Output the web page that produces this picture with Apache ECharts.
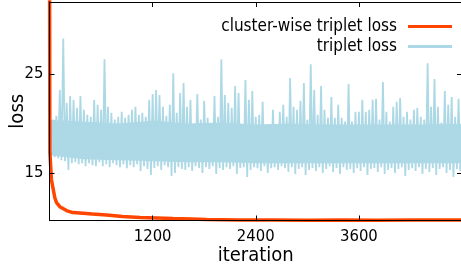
<!DOCTYPE html>
<html>
<head>
<meta charset="utf-8">
<script src="https://cdn.jsdelivr.net/npm/echarts@6/dist/echarts.min.js"></script>
<style>
    html, body { margin: 0; padding: 0; background: #fff; }
    #chart { width: 461px; height: 270px; }
</style>
</head>
<body>
<div id="chart"></div>
<script>
var fontName = "'DejaVu Sans Condensed', 'DejaVu Sans', sans-serif";

// triplet loss: sampled every 40 iterations, peak and trough of the noise band
var tripletStep = 40;
var tripletHigh = [
    21.7, 20.4, 20.8, 23.4, 28.6, 22.1, 22.8, 22.4, 21.6, 22.8,
    21.4, 20.9, 20.7, 22.4, 21.9, 21.4, 26.5, 21.7, 21.1, 20.4,
    20.7, 21.2, 20.6, 20.9, 21.4, 21.7, 20.9, 21.1, 20.7, 22.4,
    23.0, 23.4, 22.9, 21.7, 20.8, 21.9, 25.1, 21.1, 23.1, 24.1,
    21.7, 22.4, 19.7, 23.0, 20.4, 22.3, 20.6, 19.2, 22.8, 20.7,
    26.5, 22.9, 22.1, 21.6, 23.8, 23.1, 19.9, 24.4, 22.4, 23.3,
    20.7, 20.9, 22.2, 19.4, 19.7, 21.4, 19.9, 21.2, 21.9, 20.7,
    24.6, 21.7, 21.4, 22.3, 24.1, 20.4, 26.0, 23.4, 20.9, 23.8,
    21.4, 20.6, 22.7, 20.6, 21.9, 20.6, 20.2, 24.0, 20.2, 21.2,
    21.2, 22.4, 21.2, 21.4, 22.4, 22.5, 20.4, 24.2, 21.2, 20.2,
    21.7, 22.2, 22.6, 20.7, 21.2, 20.4, 21.4, 21.6, 20.7, 20.4,
    26.1, 21.7, 24.5, 21.7, 20.1, 23.3, 21.9, 22.7, 20.7, 22.5
];
var tripletLow = [
    16.7, 16.6, 16.5, 16.3, 16.2, 15.3, 16.0, 16.1, 15.9, 16.0,
    15.7, 16.0, 15.8, 15.7, 16.1, 15.7, 15.9, 15.6, 16.0, 15.8,
    15.6, 15.9, 15.5, 15.8, 15.6, 15.9, 15.2, 15.7, 15.4, 14.8,
    15.5, 15.7, 15.3, 15.8, 15.6, 14.7, 15.0, 15.6, 15.4, 15.3,
    15.6, 15.2, 15.7, 15.5, 15.0, 15.6, 15.4, 15.7, 14.9, 15.5,
    15.3, 15.6, 15.4, 15.7, 14.9, 15.5, 15.6, 14.6, 15.3, 15.6,
    15.5, 15.2, 15.7, 15.0, 15.5, 15.6, 15.3, 15.7, 15.5, 15.1,
    15.6, 14.9, 15.4, 15.6, 14.8, 15.3, 15.5, 15.2, 15.6, 15.0,
    15.4, 15.7, 15.1, 15.5, 14.9, 15.6, 15.3, 15.4, 15.0, 15.5,
    15.2, 15.6, 14.8, 15.4, 15.5, 15.1, 15.6, 14.9, 15.3, 15.5,
    15.0, 15.4, 15.6, 14.7, 15.3, 15.5, 15.2, 15.6, 14.9, 15.4,
    15.1, 15.5, 14.8, 15.4, 15.6, 15.0, 15.3, 14.6, 15.4, 15.2
];

// dense core of the triplet band, read every 400 iterations
var coreIter = [0, 400, 800, 1200, 1600, 2000, 2400, 2800, 3200, 3600, 4000, 4400, 4800];
var coreBottom = [16.8, 16.4, 16.3, 16.2, 16.1, 16.1, 16.0, 16.0, 16.0, 16.0, 16.0, 16.0, 16.0];
var coreTop = [20.4, 20.2, 20.0, 20.3, 20.0, 20.1, 19.9, 20.0, 19.9, 19.9, 19.9, 19.9, 20.0];

// cluster-wise triplet loss
var clusterIter = [0, 4, 23, 62, 82, 120, 198, 271, 353, 500, 664, 850, 1052, 1250, 1436, 1650, 1829, 2214, 2600, 3000, 3400, 3800, 4200, 4800];
var clusterLoss = [40, 17.1, 14.3, 12.5, 12.0, 11.6, 11.2, 11.0, 10.95, 10.85, 10.75, 10.6, 10.5, 10.45, 10.4, 10.35, 10.3, 10.25, 10.25, 10.22, 10.25, 10.23, 10.25, 10.24];

var xTicks = [1200, 2400, 3600];
var yTicks = [15, 25];

var tripletData = [];
for (var i = 0; i < tripletHigh.length; i++) {
    tripletData.push([i * tripletStep, tripletHigh[i]]);
    tripletData.push([i * tripletStep + tripletStep / 2, tripletLow[i]]);
}
var coreTopData = [];
var coreBottomData = [];
for (var c = 0; c < coreIter.length; c++) {
    coreTopData.push([coreIter[c], coreTop[c]]);
    coreBottomData.push([coreIter[c], coreBottom[c]]);
}
var clusterData = [];
for (var j = 0; j < clusterIter.length; j++) {
    clusterData.push([clusterIter[j], clusterLoss[j]]);
}

var chart = echarts.init(document.getElementById('chart'));

function plain(v) {
    return String(v);
}

function frameAxis(extra) {
    var axis = {
        type: 'value',
        z: 10,
        splitLine: { show: false },
        axisLine: { show: true, onZero: false, lineStyle: { color: '#000', width: 1 } },
        axisTick: { show: true, inside: true, length: 5, lineStyle: { color: '#000' } },
        axisLabel: { show: false }
    };
    for (var k in extra) axis[k] = extra[k];
    return axis;
}

function legendFor(name, top) {
    return {
        data: [name],
        right: 9,
        top: top,
        padding: 0,
        align: 'right',
        icon: 'rect',
        itemWidth: 44,
        itemHeight: 3,
        textStyle: { fontFamily: fontName, fontSize: 17, color: '#000', padding: [0, 6, 0, 0] }
    };
}

var option = {
    animation: false,
    grid: { left: 49.5, right: -1, top: 2, bottom: 49.5, containLabel: false, outerBoundsMode: 'none' },
    legend: [legendFor('cluster-wise triplet loss', 18), legendFor('triplet loss', 38)],
    xAxis: [
        frameAxis({
            position: 'bottom', min: 0, max: 4800,
            axisTick: { show: true, inside: true, length: 5, customValues: xTicks, lineStyle: { color: '#000' } },
            axisLabel: { show: true, customValues: xTicks, formatter: plain, margin: 8, fontFamily: fontName, fontSize: 16.5, color: '#000' },
            name: 'iteration', nameLocation: 'middle', nameGap: 25, nameMoveOverlap: false,
            nameTextStyle: { fontFamily: fontName, fontSize: 20, color: '#000' }
        }),
        frameAxis({
            position: 'top', min: 0, max: 4800,
            axisTick: { show: true, inside: true, length: 5, customValues: xTicks, lineStyle: { color: '#000' } }
        })
    ],
    yAxis: [
        frameAxis({
            position: 'left', min: 10.2, max: 32.3,
            axisTick: { show: true, inside: true, length: 5, customValues: yTicks, lineStyle: { color: '#000' } },
            axisLabel: { show: true, customValues: yTicks, formatter: plain, margin: 6, fontFamily: fontName, fontSize: 16.5, color: '#000' },
            name: 'loss', nameLocation: 'middle', nameGap: 22, nameRotate: 90, nameMoveOverlap: false,
            nameTextStyle: { fontFamily: fontName, fontSize: 20, color: '#000' }
        }),
        frameAxis({
            position: 'right', min: 10.2, max: 32.3,
            axisTick: { show: true, inside: true, length: 5, customValues: yTicks, lineStyle: { color: '#000' } }
        })
    ],
    series: [{
        // core band: fill below the core top in blue ...
        type: 'line',
        data: coreTopData,
        showSymbol: false,
        silent: true,
        lineStyle: { opacity: 0 },
        areaStyle: { color: '#add8e6', opacity: 1, origin: 'start' },
        z: 1
    }, {
        // ... then clear below the core bottom
        type: 'line',
        data: coreBottomData,
        showSymbol: false,
        silent: true,
        lineStyle: { opacity: 0 },
        areaStyle: { color: '#fff', opacity: 1, origin: 'start' },
        z: 1.5
    }, {
        name: 'triplet loss',
        type: 'line',
        data: tripletData,
        showSymbol: false,
        color: '#add8e6',
        lineStyle: { color: '#add8e6', width: 1.8 },
        z: 2
    }, {
        name: 'cluster-wise triplet loss',
        type: 'line',
        data: clusterData,
        showSymbol: false,
        color: '#ff4500',
        lineStyle: { color: '#ff4500', width: 3.5 },
        z: 3
    }]
};
chart.setOption(option);
</script>
</body>
</html>
